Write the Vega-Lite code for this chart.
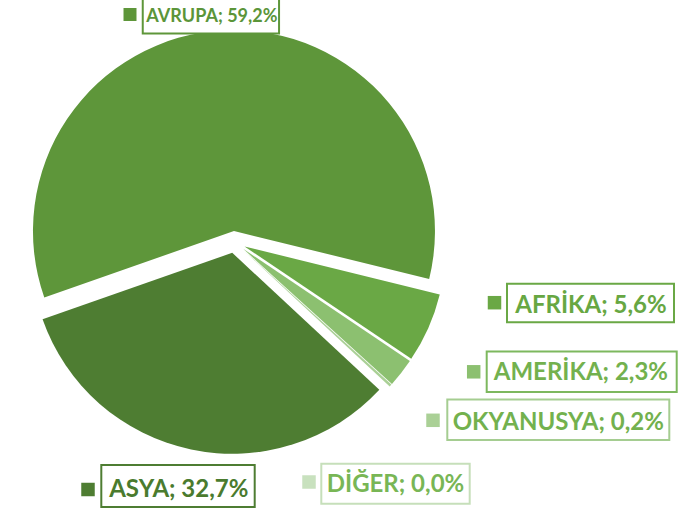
{
  "$schema": "https://vega.github.io/schema/vega-lite/v6.json",
  "width": 469,
  "height": 484,
  "autosize": "none",
  "padding": {"left": 0, "top": 0, "right": 213, "bottom": 25},
  "background": "white",
  "view": {"stroke": null},
  "data": {
    "values": [
      {"order": 1, "name": "AFRİKA", "value": 5.6, "label": "AFRİKA; 5,6%"},
      {"order": 2, "name": "AMERİKA", "value": 2.3, "label": "AMERİKA; 2,3%"},
      {"order": 3, "name": "OKYANUSYA", "value": 0.2, "label": "OKYANUSYA; 0,2%"},
      {"order": 4, "name": "DİĞER", "value": 0.0, "label": "DİĞER; 0,0%"},
      {"order": 5, "name": "ASYA", "value": 32.7, "label": "ASYA; 32,7%"},
      {"order": 6, "name": "AVRUPA", "value": 59.2, "label": "AVRUPA; 59,2%"}
    ]
  },
  "transform": [
    {"stack": "value", "groupby": [], "sort": [{"field": "order", "order": "ascending"}], "as": ["v0", "v1"]}
  ],
  "encoding": {
    "theta": {"field": "v0", "type": "quantitative", "stack": null, "scale": {"domain": [0, 100], "range": [1.8117, 8.0949]}},
    "theta2": {"field": "v1"},
    "color": {
      "field": "name", "type": "nominal", "legend": null,
      "scale": {
        "domain": ["AFRİKA", "AMERİKA", "OKYANUSYA", "DİĞER", "ASYA", "AVRUPA"],
        "range": ["#6AA845", "#8CC070", "#AAD096", "#C8E1BE", "#4E7D32", "#5E963A"]
      }
    }
  },
  "layer": [
    {"transform": [{"filter": "datum.order == 1"}], "mark": {"type": "arc", "outerRadius": 201, "xOffset": 10.06, "yOffset": 4.45}},
    {"transform": [{"filter": "datum.order == 2"}], "mark": {"type": "arc", "outerRadius": 201, "xOffset": 8.66, "yOffset": 6.79}},
    {"transform": [{"filter": "datum.order == 3"}], "mark": {"type": "arc", "outerRadius": 201, "xOffset": 8.1, "yOffset": 7.45}},
    {"transform": [{"filter": "datum.order == 5"}], "mark": {"type": "arc", "outerRadius": 201, "xOffset": -2.25, "yOffset": 10.77}},
    {"transform": [{"filter": "datum.order == 6"}], "mark": {"type": "arc", "outerRadius": 201, "xOffset": -0.53, "yOffset": -10.99}},

    {"transform": [{"filter": "datum.order == 6"}], "mark": {"type": "point", "shape": "M-1,-0.2678L1,-0.2678L1,0.2678L-1,0.2678Z", "size": 18578, "filled": true, "fill": "white", "stroke": "#5E963A", "strokeWidth": 2, "opacity": 1, "xOffset": -23.6, "yOffset": -226.75}, "encoding": {"color": {"value": "white"}}},
    {"transform": [{"filter": "datum.order == 1"}], "mark": {"type": "point", "shape": "M-1,-0.2305L1,-0.2305L1,0.2305L-1,0.2305Z", "size": 27889, "filled": true, "fill": "white", "stroke": "#6AA845", "strokeWidth": 2, "opacity": 1, "xOffset": 356.0, "yOffset": 60.9}, "encoding": {"color": {"value": "white"}}},
    {"transform": [{"filter": "datum.order == 2"}], "mark": {"type": "point", "shape": "M-1,-0.2132L1,-0.2132L1,0.2132L-1,0.2132Z", "size": 36100, "filled": true, "fill": "white", "stroke": "#7DB85E", "strokeWidth": 2, "opacity": 1, "xOffset": 347.2, "yOffset": 129.7}, "encoding": {"color": {"value": "white"}}},
    {"transform": [{"filter": "datum.order == 3"}], "mark": {"type": "point", "shape": "M-1,-0.1824L1,-0.1824L1,0.1824L-1,0.1824Z", "size": 49284, "filled": true, "fill": "white", "stroke": "#A5CD91", "strokeWidth": 2, "opacity": 1, "xOffset": 323.8, "yOffset": 177.7}, "encoding": {"color": {"value": "white"}}},
    {"transform": [{"filter": "datum.order == 4"}], "mark": {"type": "point", "shape": "M-1,-0.2695L1,-0.2695L1,0.2695L-1,0.2695Z", "size": 22023, "filled": true, "fill": "white", "stroke": "#C6DFBA", "strokeWidth": 2, "opacity": 1, "xOffset": 161.0, "yOffset": 241.7}, "encoding": {"color": {"value": "white"}}},
    {"transform": [{"filter": "datum.order == 5"}], "mark": {"type": "point", "shape": "M-1,-0.2738L1,-0.2738L1,0.2738L-1,0.2738Z", "size": 23532, "filled": true, "fill": "white", "stroke": "#4E7D32", "strokeWidth": 2, "opacity": 1, "xOffset": -56.5, "yOffset": 244}, "encoding": {"color": {"value": "white"}}},

    {"transform": [{"filter": "datum.order == 6"}], "mark": {"type": "point", "shape": "square", "size": 169, "filled": true, "opacity": 1, "xOffset": -104.5, "yOffset": -227.5}},
    {"transform": [{"filter": "datum.order == 1"}], "mark": {"type": "point", "shape": "square", "size": 182, "filled": true, "opacity": 1, "xOffset": 260, "yOffset": 60.7}},
    {"transform": [{"filter": "datum.order == 2"}], "mark": {"type": "point", "shape": "square", "size": 182, "filled": true, "opacity": 1, "xOffset": 239.2, "yOffset": 129.8}},
    {"transform": [{"filter": "datum.order == 3"}], "mark": {"type": "point", "shape": "square", "size": 182, "filled": true, "opacity": 1, "xOffset": 198.5, "yOffset": 178.3}},
    {"transform": [{"filter": "datum.order == 4"}], "mark": {"type": "point", "shape": "square", "size": 182, "filled": true, "opacity": 1, "xOffset": 74.5, "yOffset": 240}},
    {"transform": [{"filter": "datum.order == 5"}], "mark": {"type": "point", "shape": "square", "size": 182, "filled": true, "opacity": 1, "xOffset": -146.5, "yOffset": 247.5}},

    {"transform": [{"filter": "datum.order == 6"}], "mark": {"type": "text", "font": "Lato", "fontWeight": "bold", "fontSize": 18, "align": "center", "baseline": "alphabetic", "dx": -22.6, "dy": -220.3}, "encoding": {"text": {"field": "label"}, "color": {"value": "#5B9539"}}},
    {"transform": [{"filter": "datum.order == 1"}], "mark": {"type": "text", "font": "Lato", "fontWeight": "bold", "fontSize": 24, "align": "center", "baseline": "alphabetic", "dx": 356.5, "dy": 70.7}, "encoding": {"text": {"field": "label"}, "color": {"value": "#67A742"}}},
    {"transform": [{"filter": "datum.order == 2"}], "mark": {"type": "text", "font": "Lato", "fontWeight": "bold", "fontSize": 24, "align": "center", "baseline": "alphabetic", "dx": 346.4, "dy": 138.3}, "encoding": {"text": {"field": "label"}, "color": {"value": "#73B14E"}}},
    {"transform": [{"filter": "datum.order == 3"}], "mark": {"type": "text", "font": "Lato", "fontWeight": "bold", "fontSize": 24, "align": "center", "baseline": "alphabetic", "dx": 323.8, "dy": 188.3}, "encoding": {"text": {"field": "label"}, "color": {"value": "#73B14E"}}},
    {"transform": [{"filter": "datum.order == 4"}], "mark": {"type": "text", "font": "Lato", "fontWeight": "bold", "fontSize": 24, "align": "center", "baseline": "alphabetic", "dx": 161, "dy": 250}, "encoding": {"text": {"field": "label"}, "color": {"value": "#78B655"}}},
    {"transform": [{"filter": "datum.order == 5"}], "mark": {"type": "text", "font": "Lato", "fontWeight": "bold", "fontSize": 24, "align": "center", "baseline": "alphabetic", "dx": -55.7, "dy": 255}, "encoding": {"text": {"field": "label"}, "color": {"value": "#4A7B2E"}}}
  ]
}
